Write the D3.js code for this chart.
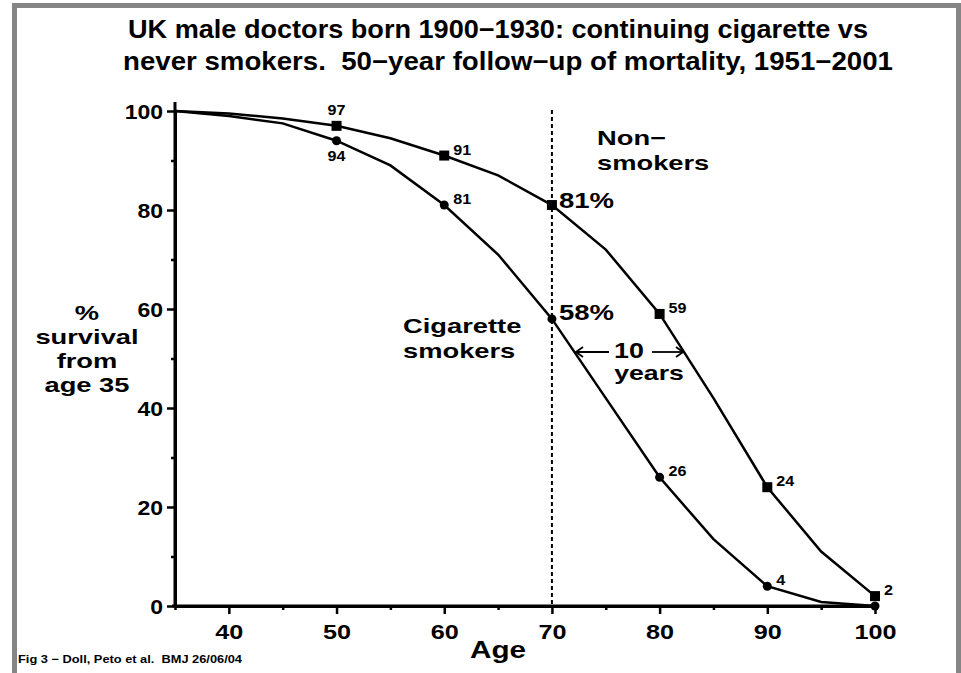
<!DOCTYPE html>
<html>
<head>
<meta charset="utf-8">
<script src="https://cdn.jsdelivr.net/npm/d3@7/dist/d3.min.js"></script>
<style>
  html, body { margin: 0; padding: 0; background: #fff; }
  svg { display: block; }
  text { font-family: "Liberation Sans", Arial, Helvetica, sans-serif; font-weight: bold; fill: #000; white-space: pre; }
</style>
</head>
<body>
<svg id="chart" width="961" height="673"></svg>
<script>
// ---- Data ----
const ages = [35, 40, 45, 50, 55, 60, 65, 70, 75, 80, 85, 90, 95, 100];
const nonSmokers = [100, 99.5, 98.5, 97, 94.5, 91, 87, 81, 72, 59, 42, 24, 11, 2];
const smokers = [100, 99, 97.5, 94, 89, 81, 71, 58, 42, 26, 13.5, 4, 0.8, 0];
const markerAges = [50, 60, 70, 80, 90, 100];
const xMajorTicks = [40, 50, 60, 70, 80, 90, 100];
const xMinorTicks = [35, 45, 55, 65, 75, 85, 95];
const yMajorTicks = [0, 20, 40, 60, 80, 100];
const yMinorTicks = [10, 30, 50, 70, 90];
const nonLabels = [
  {age: 50, text: "97", pos: "above"},
  {age: 60, text: "91", pos: "right"},
  {age: 80, text: "59", pos: "right"},
  {age: 90, text: "24", pos: "right"},
  {age: 100, text: "2", pos: "right"}
];
const smokLabels = [
  {age: 50, text: "94", pos: "below"},
  {age: 60, text: "81", pos: "right"},
  {age: 80, text: "26", pos: "right"},
  {age: 90, text: "4", pos: "right"}
];
const titleLines = ["UK male doctors born 1900\u22121930: continuing cigarette vs",
                    "never smokers.\u00a0 50\u2212year follow\u2212up of mortality, 1951\u22122001"];
const yTitleLines = ["%", "survival", "from", "age 35"];
const footnote = "Fig 3 \u2212 Doll, Peto et al.\u00a0 BMJ 26/06/04";
const markAge = 70;

// ---- Setup ----
const svg = d3.select("#chart");
const x = d3.scaleLinear().domain([35, 100]).range([175, 875]);
const y = d3.scaleLinear().domain([0, 100]).range([606, 111]);

// widen glyphs to mimic the wide Helvetica-style original
function widen(sel, f) {
  sel.each(function() {
    const w = this.getComputedTextLength();
    d3.select(this).attr("textLength", w * f).attr("lengthAdjust", "spacingAndGlyphs");
  });
}

// frame
svg.append("path")
  .attr("d", "M14.5,673 L14.5,5.5 L958.5,5.5 L958.5,673")
  .attr("fill", "none").attr("stroke", "#858585").attr("stroke-width", 5);

// title
svg.selectAll("text.title").data(titleLines).enter().append("text")
  .attr("class", "title")
  .attr("x", (d, i) => i === 0 ? 128 : 123).attr("y", (d, i) => 38 + i * 32)
  .attr("font-size", 25)
  .attr("textLength", (d, i) => i === 0 ? 740 : 770)
  .attr("lengthAdjust", "spacingAndGlyphs")
  .text(d => d);

// axes
const gx = svg.append("g").attr("transform", `translate(0,${y(0)})`);
gx.call(d3.axisBottom(x).tickValues(xMajorTicks).tickSize(8).tickSizeOuter(0).tickFormat(d3.format("d")));
const gxm = svg.append("g").attr("transform", `translate(0,${y(0)})`);
gxm.call(d3.axisBottom(x).tickValues(xMinorTicks).tickSize(4).tickSizeOuter(0).tickFormat(""));
gxm.select(".domain").remove();

const gy = svg.append("g").attr("transform", `translate(${x(35)},0)`);
gy.call(d3.axisLeft(y).tickValues(yMajorTicks).tickSize(8).tickSizeOuter(0).tickFormat(d3.format("d")));
const gym = svg.append("g").attr("transform", `translate(${x(35)},0)`);
gym.call(d3.axisLeft(y).tickValues(yMinorTicks).tickSize(4).tickSizeOuter(0).tickFormat(""));
gym.select(".domain").remove();

[gx, gy, gxm, gym].forEach(g => {
  g.selectAll("line").attr("stroke", "#000").attr("stroke-width", 2.5);
  g.selectAll(".domain").attr("stroke", "#000").attr("stroke-width", 3);
  g.selectAll("text").attr("fill", "#000")
    .style("font-family", "'Liberation Sans', Arial, sans-serif").style("font-weight", "bold");
});
gx.selectAll("text").attr("font-size", 21).attr("dy", null).attr("y", 33);
widen(gx.selectAll("text"), 1.2);
gy.selectAll("text").attr("font-size", 20).attr("x", -12).attr("dy", "0.36em");
widen(gy.selectAll("text"), 1.15);

// axis extensions
svg.append("line").attr("x1", x(35)).attr("x2", x(35)).attr("y1", y(100) - 9).attr("y2", y(0) + 1)
  .attr("stroke", "#000").attr("stroke-width", 3);
svg.append("line").attr("x1", x(35) - 3).attr("x2", x(100) + 2).attr("y1", y(0)).attr("y2", y(0))
  .attr("stroke", "#000").attr("stroke-width", 3);

// dotted vertical line at 70
svg.append("line")
  .attr("x1", x(markAge)).attr("x2", x(markAge))
  .attr("y1", y(100) - 1).attr("y2", y(0))
  .attr("stroke", "#000").attr("stroke-width", 2).attr("stroke-dasharray", "4,3");

// lines
const line = d3.line().x(d => x(d[0])).y(d => y(d[1]));
const nonData = ages.map((a, i) => [a, nonSmokers[i]]);
const smkData = ages.map((a, i) => [a, smokers[i]]);
svg.append("path").datum(nonData).attr("d", line)
  .attr("fill", "none").attr("stroke", "#000").attr("stroke-width", 2.5);
svg.append("path").datum(smkData).attr("d", line)
  .attr("fill", "none").attr("stroke", "#000").attr("stroke-width", 2.5);

// markers
const nonMarks = nonData.filter(d => markerAges.includes(d[0]));
const smkMarks = smkData.filter(d => markerAges.includes(d[0]));
svg.selectAll("rect.mk").data(nonMarks).enter().append("rect")
  .attr("x", d => x(d[0]) - 5).attr("y", d => y(d[1]) - 5)
  .attr("width", 10).attr("height", 10).attr("fill", "#000");
svg.selectAll("circle.mk").data(smkMarks).enter().append("circle")
  .attr("cx", d => x(d[0])).attr("cy", d => y(d[1])).attr("r", 4.5).attr("fill", "#000");

// point labels
function placeLabels(labels, series) {
  labels.forEach(l => {
    const v = series[ages.indexOf(l.age)];
    const px = x(l.age), py = y(v);
    const t = svg.append("text").attr("font-size", 14).text(l.text);
    if (l.pos === "above") t.attr("x", px).attr("y", py - 11).attr("text-anchor", "middle");
    else if (l.pos === "below") t.attr("x", px).attr("y", py + 20).attr("text-anchor", "middle");
    else t.attr("x", px + 9).attr("y", py - 1);
    widen(t, 1.15);
  });
}
placeLabels(nonLabels, nonSmokers);
placeLabels(smokLabels, smokers);

// percent labels at 70
const i70 = ages.indexOf(markAge);
const p1 = svg.append("text").attr("x", x(markAge) + 7).attr("y", y(nonSmokers[i70]) + 3)
  .attr("font-size", 22).text(nonSmokers[i70] + "%");
const p2 = svg.append("text").attr("x", x(markAge) + 7).attr("y", y(smokers[i70]) + 1)
  .attr("font-size", 22).text(smokers[i70] + "%");
widen(p1, 1.25); widen(p2, 1.25);

// series labels
const lab = svg.append("g").attr("font-size", 21);
lab.append("text").attr("x", 597).attr("y", 145).text("Non\u2212");
lab.append("text").attr("x", 597).attr("y", 170).text("smokers");
lab.append("text").attr("x", 403).attr("y", 333).text("Cigarette");
lab.append("text").attr("x", 403).attr("y", 358).text("smokers");
widen(lab.selectAll("text"), 1.3);

// 10 years annotation
const ann = svg.append("g");
const t10 = ann.append("text").attr("x", 629).attr("y", 358).attr("text-anchor", "middle").attr("font-size", 22).text("10");
const tyr = ann.append("text").attr("x", 649).attr("y", 380).attr("text-anchor", "middle").attr("font-size", 21).text("years");
widen(t10, 1.22); widen(tyr, 1.27);
function arrow(x1, x2, yy) {
  ann.append("line").attr("x1", x1).attr("x2", x2).attr("y1", yy).attr("y2", yy)
    .attr("stroke", "#000").attr("stroke-width", 1.8);
  const dir = x2 > x1 ? -1 : 1;
  ann.append("path").attr("d", `M${x2 + dir * 7},${yy - 5} L${x2},${yy} L${x2 + dir * 7},${yy + 5}`)
    .attr("fill", "none").attr("stroke", "#000").attr("stroke-width", 1.8);
}
arrow(609, 576, 352);
arrow(652, 683, 352);

// y axis title
const yt = svg.selectAll("text.ytitle").data(yTitleLines).enter().append("text")
  .attr("x", 87).attr("y", (d, i) => 320 + i * 24)
  .attr("text-anchor", "middle").attr("font-size", 21).text(d => d);
widen(yt, 1.3);

// x axis title
svg.append("text").attr("x", 498).attr("y", 658).attr("text-anchor", "middle")
  .attr("font-size", 24).attr("textLength", 56).attr("lengthAdjust", "spacingAndGlyphs").text("Age");

// footnote
svg.append("text").attr("x", 18).attr("y", 663).attr("font-size", 11)
  .attr("textLength", 224).attr("lengthAdjust", "spacingAndGlyphs").text(footnote);
</script>
</body>
</html>
